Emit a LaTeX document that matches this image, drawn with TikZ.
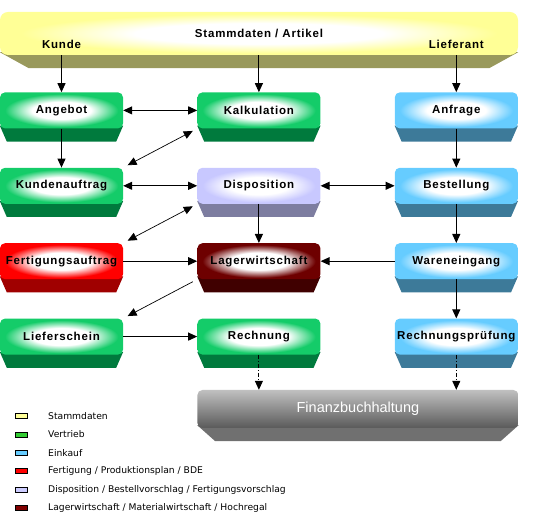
\documentclass[tikz,border=0pt]{standalone}
\usepackage{fontspec}
\setmainfont{Liberation Sans}
\newfontfamily\legendefont{DejaVu Sans}
\usepackage{xcolor}
\usepackage{tikz}
\usetikzlibrary{arrows.meta,positioning,calc,backgrounds}

\definecolor{gelbR}{RGB}{255,255,150}
\definecolor{gelbS}{RGB}{153,153,92}
\definecolor{gruenR}{RGB}{20,204,105}
\definecolor{gruenS}{RGB}{0,122,61}
\definecolor{blauR}{RGB}{102,204,255}
\definecolor{blauS}{RGB}{61,122,153}
\definecolor{lilaR}{RGB}{200,200,255}
\definecolor{lilaS}{RGB}{125,125,160}
\definecolor{rotR}{RGB}{255,0,0}
\definecolor{rotS}{RGB}{160,0,0}
\definecolor{lagerR}{RGB}{110,0,0}
\definecolor{lagerS}{RGB}{64,0,0}
\definecolor{grauO}{RGB}{192,192,192}
\definecolor{grauU}{RGB}{90,90,90}
\definecolor{grauS}{RGB}{112,112,112}
\definecolor{legGelb}{RGB}{255,255,153}
\definecolor{legGruen}{RGB}{51,204,51}
\definecolor{legLila}{RGB}{204,204,255}
\definecolor{legLager}{RGB}{128,0,0}

\colorlet{glowc}{white}
\pgfdeclareradialshading[glowc]{glow}{\pgfpoint{0bp}{0bp}}{color(0bp)=(white); color(12bp)=(white); color(23bp)=(glowc); color(25bp)=(glowc); color(50bp)=(glowc)}

\newcommand\modulfont{\fontsize{11.5}{13}\selectfont\bfseries\addfontfeature{LetterSpace=7}}

\begin{document}
\begin{tikzpicture}[
        x=1pt, y=1pt,
        >={Triangle[length=9pt,width=8pt]},
        node distance=39pt and 74pt,
        glow color/.code={\colorlet{glowc}{#1}},
        modul/.style={rectangle, rounded corners=5pt, minimum width=123pt, minimum height=36pt, inner sep=0pt, font=\modulfont, shading=glow},
        vertrieb/.style={modul, glow color=gruenR},
        einkauf/.style={modul, glow color=blauR},
        dispo/.style={modul, glow color=lilaR},
        fertigung/.style={modul, glow color=rotR},
        lager/.style={modul, glow color=lagerR},
        stamm/.style={modul, glow color=gelbR, minimum width=518pt, minimum height=43pt, rounded corners=8pt},
        fibu/.style={rectangle, rounded corners=5pt, minimum width=321pt, minimum height=38pt, inner sep=0pt, top color=grauO, bottom color=grauU, text=white, font=\fontsize{14.5}{17}\selectfont},
        titel/.style={font=\modulfont, inner sep=0pt},
        pfeil/.style={->, line width=1pt},
        doppel/.style={<->, line width=1pt},
        schraeg/.style={line width=0.7pt, shorten <=5pt, shorten >=5pt},
        fluss/.style={->, line width=1pt, dash pattern=on 4pt off 2pt on 1pt off 2pt},
        legkasten/.style={rectangle, draw=black, line width=0.6pt, minimum width=12pt, minimum height=5pt, inner sep=0pt},
        legende/.style={font=\legendefont\fontsize{9.2}{11}\selectfont, inner sep=0pt}
    ]
        \useasboundingbox (0,0) rectangle (547,-518);

        \node[stamm] (stamm) at (259,-33.5) {Stammdaten / Artikel};
        \node[vertrieb, below right=37pt and 0pt of stamm.south west] (angebot) {Angebot};
        \node[vertrieb, right=of angebot] (kalkulation) {Kalkulation};
        \node[einkauf, right=of kalkulation] (anfrage) {Anfrage};
        \node[vertrieb, below=of angebot] (kundenauftrag) {Kundenauftrag};
        \node[dispo, below=of kalkulation] (disposition) {Disposition};
        \node[einkauf, below=of anfrage] (bestellung) {Bestellung};
        \node[fertigung, below=of kundenauftrag] (fertigungsauftrag) {Fertigungsauftrag};
        \node[lager, below=of disposition] (lagerwirtschaft) {Lagerwirtschaft};
        \node[einkauf, below=of bestellung] (wareneingang) {Wareneingang};
        \node[vertrieb, below=of fertigungsauftrag] (lieferschein) {Lieferschein};
        \node[vertrieb, below=of lagerwirtschaft] (rechnung) {Rechnung};
        \node[einkauf, below=of wareneingang] (rechnungspruefung) {Rechnungsprüfung};
        \node[fibu, below right=35pt and 0pt of rechnung.south west] (fibu) {Finanzbuchhaltung};

        \node[titel] (kunde) at ($(angebot.north |- stamm.south)+(0,11)$) {Kunde};
        \node[titel] (lieferant) at ($(anfrage.north |- stamm.south)+(0,11)$) {Lieferant};

        % Schattenkanten
        \begin{scope}[on background layer]
            \foreach \n/\c/\d in {stamm/gelbS/29, angebot/gruenS/7, kalkulation/gruenS/7, anfrage/blauS/7,
                kundenauftrag/gruenS/7, disposition/lilaS/7, bestellung/blauS/7,
                fertigungsauftrag/rotS/7, lagerwirtschaft/lagerS/7, wareneingang/blauS/7,
                lieferschein/gruenS/7, rechnung/gruenS/7, rechnungspruefung/blauS/7, fibu/grauS/18}
                \fill[\c] ($(\n.south west)+(0,3)$) -- ($(\n.south east)+(0,3)$) -- ($(\n.south east)+(-\d,-13)$) -- ($(\n.south west)+(\d,-13)$) -- cycle;
        \end{scope}

        \draw[pfeil] (angebot |- stamm.south) -- (angebot);
        \draw[pfeil] (kalkulation |- stamm.south) -- (kalkulation);
        \draw[pfeil] (anfrage |- stamm.south) -- (anfrage);
        \draw[doppel] (angebot) -- (kalkulation);
        \draw[pfeil] (angebot) -- (kundenauftrag);
        \draw[doppel, schraeg] (kundenauftrag.north east) -- (kalkulation.south west);
        \draw[doppel] (kundenauftrag) -- (disposition);
        \draw[doppel] (disposition) -- (bestellung);
        \draw[pfeil] (anfrage) -- (bestellung);
        \draw[doppel, schraeg] (fertigungsauftrag.north east) -- (disposition.south west);
        \draw[pfeil] (disposition) -- (lagerwirtschaft);
        \draw[pfeil] (fertigungsauftrag) -- (lagerwirtschaft);
        \draw[pfeil] (wareneingang) -- (lagerwirtschaft);
        \draw[pfeil] (bestellung) -- (wareneingang);
        \draw[pfeil, schraeg] (lagerwirtschaft.south west) -- (lieferschein.north east);
        \draw[pfeil] (lieferschein) -- (rechnung);
        \draw[pfeil] (wareneingang) -- (rechnungspruefung);
        \draw[fluss] (rechnung) -- (rechnung |- fibu.north);
        \draw[fluss] (rechnungspruefung) -- (rechnungspruefung |- fibu.north);

        % Legende
        \foreach \farbe/\txt [count=\i from 0] in {legGelb/Stammdaten, legGruen/Vertrieb, blauR/Einkauf,
            rotR/{Fertigung / Produktionsplan / BDE},
            legLila/{Disposition / Bestellvorschlag / Fertigungsvorschlag},
            legLager/{Lagerwirtschaft / Materialwirtschaft / Hochregal}} {
            \node[legkasten, fill=\farbe] (leg\i) at (21,-416-18.4*\i) {};
            \node[legende, right=27pt of leg\i.center, anchor=west] (legtext\i) {\txt};
        }
    \end{tikzpicture}
\end{document}
